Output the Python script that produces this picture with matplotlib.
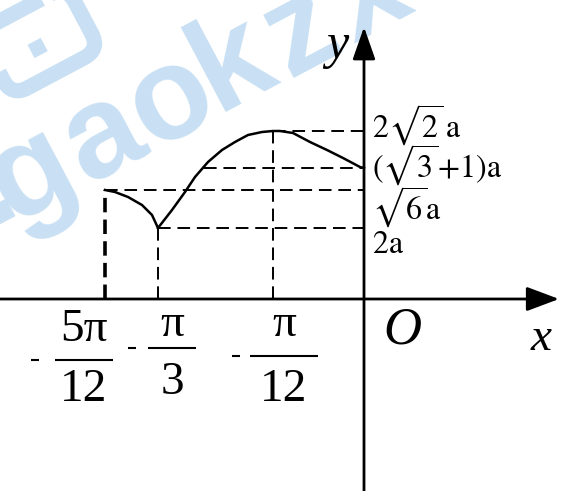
#!/usr/bin/env python
# -*- coding: utf-8 -*-

"""
Sketch of the piecewise curve with its special values (schematic, not to scale).
"""

# Third party modules.
import matplotlib
matplotlib.use("Agg")
import matplotlib.pyplot as plt
from matplotlib.patches import FancyBboxPatch
import matplotlib.transforms as mtransforms

# Globals and constants variables.
# schematic units (the drawing is not to scale)
x_ticks = [-259, -206, -91]
x_tick_num = ["5π", "π", "π"]
x_tick_den = ["12", "3", "12"]

y_levels = [168, 131, 109, 71]
y_labels = [r"$2\sqrt{2}\,\mathrm{a}$", r"$(\sqrt{3}\!+\!1)\mathrm{a}$",
            r"$\sqrt{6}\mathrm{a}$", r"$2\mathrm{a}$"]

# left branch: from x = -5pi/12 down to the cusp at x = -pi/3
curve_x_left = [-259, -249, -236, -222, -212, -206]
curve_y_left = [109, 107, 102, 94, 84, 71]
# right branch: from the cusp up to the maximum and down to x = 0
curve_x_right = [-206, -192, -179, -169, -156, -142, -129, -116, -102, -91,
                 -84, -71, -54, -37, -21, -4, 0]
curve_y_right = [71, 89, 107, 122, 137, 149, 157, 164, 167, 168,
                 168, 166, 157, 149, 141, 132, 131]

SERIF = "Liberation Serif"

# watermark letters and where they sit (pixels from the top-left corner)
wm_letters = [".", "g", "a", "o", "k", "z", "x"]
wm_px = [(6, 216), (48, 206), (119, 168), (188, 131), (249, 95), (318, 63), (385, 27)]


def fraction(ax, xc, y_num, y_bar, y_den, half, num, den, x_minus, size):
    ax.text(xc, y_num, num, ha="center", va="center", fontsize=size, family=SERIF)
    ax.text(xc, y_den, den, ha="center", va="center", fontsize=size, family=SERIF)
    ax.plot([xc - half, xc + half], [y_bar, y_bar], color="k", lw=1.5,
            solid_capstyle="butt")
    ax.plot([x_minus - 4, x_minus + 4], [y_bar, y_bar], color="k", lw=1.5,
            solid_capstyle="butt")


def sketch():
    plt.rcParams["mathtext.fontset"] = "stix"
    fig = plt.figure(figsize=(5.61, 4.91), dpi=100)
    ax = fig.add_axes([0, 0, 1, 1])
    ax.set_xlim(-364, 197)
    ax.set_ylim(-192, 299)
    ax.axis("off")

    # watermark
    wm = "#c9e0f4"
    for letter, (px, py) in zip(wm_letters, wm_px):
        ax.text(px / 561, 1 - py / 491, letter, transform=ax.transAxes, rotation=28,
                rotation_mode="anchor", ha="center", va="baseline", fontsize=94,
                fontweight="bold", color=wm, family="Liberation Sans", zorder=0)
    logo = FancyBboxPatch((-375, 222), 100, 72, boxstyle="round,pad=0,rounding_size=18",
                          fill=False, ec=wm, lw=11, zorder=0)
    rot = mtransforms.Affine2D().rotate_deg_around(-325, 258, 28) + ax.transData
    logo.set_transform(rot)
    ax.add_patch(logo)
    dot = FancyBboxPatch((-337, 245), 15, 15, boxstyle="square,pad=0",
                         fc=wm, ec="none", zorder=0)
    dot.set_transform(rot)
    ax.add_patch(dot)

    # axes with arrows
    ax.annotate("", xy=(195, 0), xytext=(-364, 0),
                arrowprops=dict(arrowstyle="-|>,head_length=2.0,head_width=0.75",
                                lw=2.0, color="k", shrinkA=0, shrinkB=0))
    ax.annotate("", xy=(0, 272), xytext=(0, -192),
                arrowprops=dict(arrowstyle="-|>,head_length=2.0,head_width=0.7",
                                lw=2.0, color="k", shrinkA=0, shrinkB=0))

    dash = (0, (6.5, 3.5))
    # guide lines
    ax.plot([x_ticks[0], x_ticks[0]], [0, y_levels[2]], color="k", lw=2.6,
            linestyle=(0, (4.0, 2.0)))
    ax.plot([x_ticks[1], x_ticks[1]], [0, y_levels[3]], color="k", lw=1.4, linestyle=dash)
    ax.plot([x_ticks[2], x_ticks[2]], [0, y_levels[0]], color="k", lw=1.4, linestyle=dash)
    ax.plot([x_ticks[2], 0], [y_levels[0], y_levels[0]], color="k", lw=1.4, linestyle=dash)
    ax.plot([-160, 0], [y_levels[1], y_levels[1]], color="k", lw=1.4, linestyle=dash)
    ax.plot([x_ticks[0], 0], [y_levels[2], y_levels[2]], color="k", lw=1.4, linestyle=dash)
    ax.plot([x_ticks[1], 0], [y_levels[3], y_levels[3]], color="k", lw=1.4, linestyle=dash)
    ax.vlines(x_ticks, 0, 6, color="k", lw=1.2)

    # curve
    ax.plot(curve_x_left, curve_y_left, color="k", lw=1.8, solid_joinstyle="round")
    ax.plot(curve_x_right, curve_y_right, color="k", lw=1.8, solid_joinstyle="round")

    # y labels (baseline offsets from each level)
    y_offsets = [-7, -10, -30, -25]
    for level, label, off in zip(y_levels, y_labels, y_offsets):
        ax.text(8, level + off, label, ha="left", va="baseline", fontsize=23)

    # x labels (stacked fractions)
    fraction(ax, x_ticks[0] - 21, -31, -61, -91, 29, x_tick_num[0], x_tick_den[0], -329, 34)
    fraction(ax, x_ticks[1] + 14, -26, -49, -84, 24, x_tick_num[1], x_tick_den[1], -232, 34)
    fraction(ax, x_ticks[2] + 11, -26, -57, -91, 34, x_tick_num[2], x_tick_den[2], -128, 34)

    ax.text(38, -32, "O", ha="center", va="center", fontsize=38, family=SERIF,
            style="italic")
    ax.text(177, -40, "x", ha="center", va="center", fontsize=34, family=SERIF,
            style="italic")
    ax.text(-27, 253, "y", ha="center", va="center", fontsize=36, family=SERIF,
            style="italic")

    fig.savefig("out.png", dpi=100)


if __name__ == '__main__':
    sketch()
